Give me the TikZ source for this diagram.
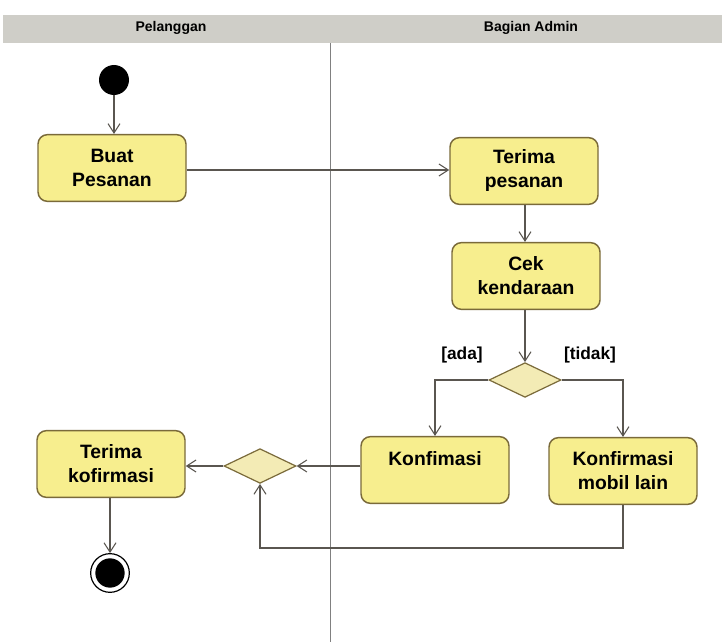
\documentclass[tikz,border=0pt]{standalone}
\usepackage{fontspec}
\setmainfont{Liberation Sans}
\usetikzlibrary{arrows.meta,shapes.geometric}
\definecolor{laneGray}{HTML}{CFCEC8}
\definecolor{actFill}{HTML}{F7EE8E}
\definecolor{actLine}{HTML}{7A6A3A}
\definecolor{decFill}{HTML}{F3EBB5}
\definecolor{flowLine}{HTML}{5A5650}
\tikzset{
  activity/.style={draw=actLine, fill=actFill, line width=1.1pt, rounded corners=7pt,
    minimum width=111pt, minimum height=50pt, align=center,
    font=\bfseries\fontsize{14.5}{18}\selectfont},
  decision/.style={diamond, draw=actLine, fill=decFill, line width=0.9pt,
    minimum width=54pt, minimum height=26pt, inner sep=0pt, aspect=2.1},
  flow/.style={draw=flowLine, line width=0.8pt, -{Straight Barb[length=7pt,width=9pt]}},
  guard/.style={font=\bfseries\fontsize{13}{15}\selectfont},
  lane/.style={font=\bfseries\fontsize{10.5}{12}\selectfont}
}
\begin{document}
\begin{tikzpicture}[x=0.75pt,y=-0.75pt]
    \useasboundingbox (0,0) rectangle (722,642);
    \fill [laneGray] (3,15) rectangle (722,43);
    \node [lane] (pelanggan) at (171,28) {Pelanggan};
    \node [lane] (admin) at (531,28) {Bagian Admin};
    \draw [gray, line width=0.5pt] (330,43) -- (330,642);

    \fill [black] (114,80) circle [radius=11.25pt];
    \node [circle, minimum size=22.5pt, inner sep=0pt] (start) at (114,80) {};
    \node [activity] (buat) at (112,168) {Buat\\Pesanan};
    \node [activity] (terimaP) at (524,171) {Terima\\pesanan};
    \node [activity] (cek) at (526,276) {Cek\\kendaraan};
    \node [decision] (pilih) at (525,380) {};
    \node [activity] (konf) at (435,470) {Konfimasi\\~};
    \node [activity] (mobil) at (623,471) {Konfirmasi\\mobil lain};
    \node [decision] (gabung) at (260,466) {};
    \node [activity] (terimaK) at (111,464) {Terima\\kofirmasi};
    \node [circle, draw=black, line width=0.9pt, fill=white, minimum size=29pt, inner sep=0pt] (stop) at (110,573) {};
    \fill [black] (stop.center) circle [radius=11pt];

    \draw [flow] (start.south) -- (start.south |- buat.north);
    \draw [flow] (buat.east |- 0,170) -- (terimaP.west |- 0,170);
    \draw [flow] (pilih.north |- terimaP.south) -- (pilih.north |- cek.north);
    \draw [flow] (cek.south -| pilih.north) -- (pilih.north);
    \draw [flow] (pilih.west) -| (konf.north);
    \draw [flow] (pilih.east) -| (mobil.north);
    \node [guard] (ada) at (462,355) {[ada]};
    \node [guard] (tidak) at (590,355) {[tidak]};
    \draw [flow] (konf.west |- gabung) -- (gabung.east);
    \coordinate (balik) at (623,548);
    \draw [flow] (mobil.south) -- (balik) -| (gabung.south);
    \draw [flow] (gabung.west) -- (terimaK.east |- gabung);
    \draw [flow] (terimaK.south -| stop.north) -- (stop.north);
  \end{tikzpicture}
\end{document}
